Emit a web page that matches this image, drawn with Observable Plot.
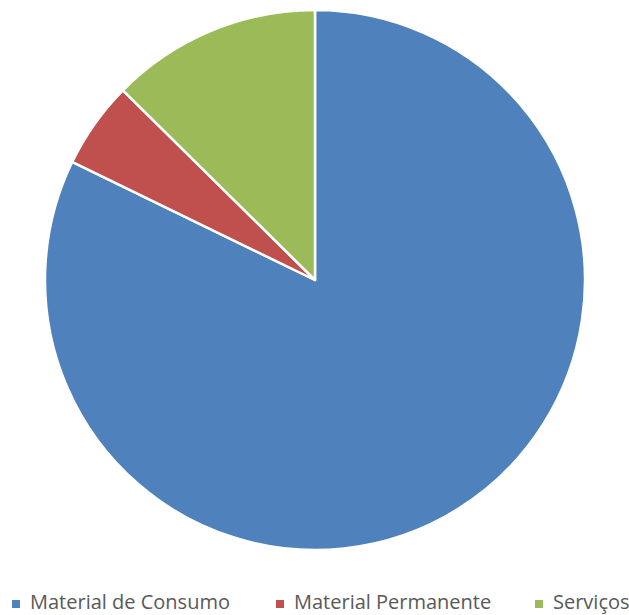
<!DOCTYPE html>
<html>
<head>
<meta charset="utf-8">
<script src="https://cdn.jsdelivr.net/npm/d3@7"></script>
<script src="https://cdn.jsdelivr.net/npm/@observablehq/plot@0.6"></script>
<style>
  html, body { margin: 0; padding: 0; background: #fff; }
  #wrap { position: relative; width: 629px; height: 615px; overflow: hidden; }
  #legend { position: absolute; left: 0; top: 588px; width: 629px; height: 27px;
    font-family: "Open Sans", sans-serif; font-size: 20px; color: #595959; }
  .item { position: absolute; top: 0; white-space: nowrap; line-height: 27px; }
  .sw { display: inline-block; width: 8px; height: 8px; margin-right: 10px; vertical-align: 1px; }
</style>
</head>
<body>
<div id="wrap"><div id="chart"></div><div id="legend"></div></div>
<script>
const categories = ["Material de Consumo", "Material Permanente", "Serviços"];
const values = [82.2, 5.2, 12.6];
const colors = ["#4F81BD", "#C0504D", "#9BBB59"];

const data = categories.map((c, i) => ({category: c, value: values[i]}));

const pieMark = (index, scales, vals, dimensions) => {
  const cx = scales.x(0), cy = scales.y(0);
  const r = scales.x(1) - scales.x(0);
  const arcs = d3.pie().sort(null).value(d => d.value)(data);
  const arc = d3.arc().innerRadius(0).outerRadius(r);
  const g = d3.create("svg:g").attr("transform", `translate(${cx},${cy})`);
  g.selectAll("path").data(arcs).join("path")
    .attr("d", arc)
    .attr("fill", d => scales.color(d.data.category))
    .attr("stroke", "#fff")
    .attr("stroke-width", 2.5)
    .attr("stroke-linejoin", "round");
  return g.node();
};

const chart = Plot.plot({
  width: 629,
  height: 588,
  margin: 0,
  x: {domain: [-1, 1], range: [45, 585], axis: null},
  y: {domain: [-1, 1], range: [550, 10], axis: null},
  color: {domain: categories, range: colors},
  marks: [
    Plot.dot(data, {x: 0, y: 0, r: 0, fill: "category"}),
    pieMark
  ]
});
document.getElementById("chart").appendChild(chart);

const legendX = [12, 276, 535];
const legend = d3.select("#legend");
categories.forEach((c, i) => {
  const it = legend.append("div").attr("class", "item").style("left", legendX[i] + "px");
  it.append("span").attr("class", "sw").style("background", chart.scale("color").apply(c));
  it.append("span").text(c);
});
</script>
</body>
</html>
